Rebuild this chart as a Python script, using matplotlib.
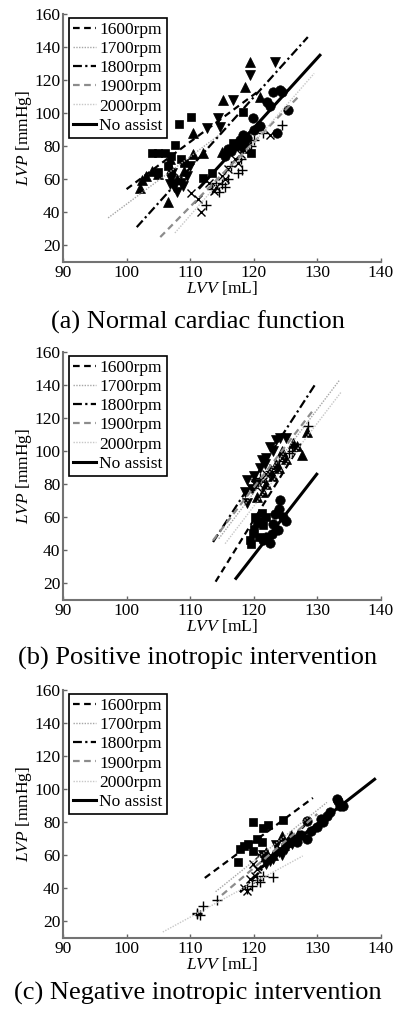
import matplotlib
matplotlib.use("Agg")
from matplotlib import pyplot as plt

plt.rcParams['font.family'] = ['Liberation Serif', 'DejaVu Serif']
plt.rcParams['mathtext.fontset'] = 'custom'
plt.rcParams['mathtext.rm'] = 'Liberation Serif'
plt.rcParams['mathtext.it'] = 'Liberation Serif:italic'

labels = ["1600rpm", "1700rpm", "1800rpm", "1900rpm", "2000rpm", "No assist"]
captions = ["(a) Normal cardiac function",
            "(b) Positive inotropic intervention",
            "(c) Negative inotropic intervention"]
x_ticks = [90, 100, 110, 120, 130, 140]
y_ticks = [20, 40, 60, 80, 100, 120, 140, 160]

# ---- (a) normal cardiac function: measured points [LVV, LVP]
a_1600 = [(108.2, 93.5), (110.1, 97.7), (107.6, 80.8), (106, 75.9), (104.9, 64.4), (112, 60.8),
          (118.3, 100.7), (116.7, 82), (105, 76), (107, 74), (108.5, 72), (109, 70), (106.5, 68),
          (104, 76), (117.5, 80), (118.5, 78), (113.5, 64), (119.5, 76)]
a_1700 = [(102.4, 59.6), (102.1, 54.8), (106.5, 46.3), (110.4, 88), (115, 76.5), (119.4, 131),
          (118.6, 116), (115.2, 108), (121, 110), (105, 63), (107, 66), (108, 60), (106.8, 72),
          (109, 65), (104, 65), (103, 62), (110.5, 75), (112, 76)]
a_1800 = [(119.4, 123), (123.3, 131), (116.7, 108), (114.4, 97), (112.6, 91), (114.7, 91.7),
          (107, 60), (107.5, 55), (108, 52), (108.5, 58), (109.5, 62), (106.8, 57), (110, 68),
          (108.8, 56), (107.2, 64)]
a_1900 = [(110.1, 51.7), (111.2, 48), (111.7, 40.2), (117.5, 70), (122.5, 86.8), (113, 58),
          (114, 55), (115, 62), (116, 66), (117, 72), (118, 75), (119, 80), (113.8, 53),
          (115.5, 60), (118.6, 87)]
a_2000 = [(112.5, 44.5), (117.5, 63.8), (118.1, 65.6), (124.4, 92.9), (121.4, 88), (113.5, 54),
          (114.5, 52), (115, 57), (116, 60), (114, 58), (116.5, 68), (118, 72), (119.5, 80),
          (120, 84), (115.5, 55)]
a_none = [(124.1, 114), (123, 112.8), (125.4, 102), (122.1, 106.8), (119.9, 97), (123.6, 88),
          (118.3, 86.8), (117.8, 83.8), (116, 78), (117, 80), (118.5, 82), (121, 92), (120, 90),
          (124.5, 113), (122.5, 104), (119, 85), (115.5, 74), (116.5, 77)]
# fitted lines: (LVV start, LVV end, LVP start, LVP end)
a_fits = [(100, 121, 54, 114), (97.1, 115, 36.6, 88), (101.6, 128.5, 31, 146),
          (105.3, 127.3, 25, 111), (107.6, 129.5, 27.5, 124), (111.5, 130.4, 55, 135)]

# ---- (b) positive inotropic intervention
b_1600 = [(119.9, 50.5), (121.3, 62.6), (119.4, 46.3), (120.5, 56.6), (120, 53), (121, 58),
          (120.8, 48), (119.5, 44), (122, 60), (121.5, 55), (120.2, 60)]
b_1700 = [(128.4, 111.6), (127.6, 97.7), (126.2, 105), (124, 90), (123, 85), (122, 80), (125, 95),
          (124.5, 100), (121.5, 75), (123.5, 92), (126.8, 103), (122.5, 88), (120.5, 72)]
b_1800 = [(118.9, 68.7), (118.6, 75.3), (118.9, 82.6), (121.3, 94.7), (122.5, 102.6), (124.1, 108),
          (120, 85), (121, 90), (123, 100), (120.3, 80), (119.8, 77), (122, 96), (123.5, 107),
          (125, 108), (121.8, 92)]
b_1900 = [(120.5, 78), (121.5, 82), (122, 86), (120.8, 80), (123, 90), (124.5, 96)]
b_2000 = [(126, 100), (128.5, 115), (121, 84), (122.5, 88), (124, 94), (125.5, 99)]
b_none = [(124.1, 70.5), (122.5, 44.5), (124.6, 60.2), (123.8, 52.3), (123, 56), (122, 48),
          (124, 65), (123.3, 62), (125, 58), (122.8, 50), (121.5, 46)]
b_fits = [(114, 127.5, 21, 105), (114.5, 133.5, 47, 143), (113.6, 129.6, 45, 140),
          (113.6, 129.2, 46, 124), (115.5, 133.8, 44, 136), (117.2, 129.9, 23, 86)]

# ---- (c) negative inotropic intervention
c_1600 = [(119.9, 80.2), (122.2, 78.4), (124.6, 81.4), (117.8, 63.8), (119.1, 66.9), (121.3, 68.1),
          (117.5, 56), (119.9, 62.6), (121.4, 76.5), (118.5, 65.5), (120.5, 70)]
c_1700 = [(123.6, 63.8), (125.2, 68.1), (126.2, 69.9), (124.4, 71.7), (123, 60), (122, 62),
          (124.8, 66), (125.8, 72), (127, 73)]
c_1800 = [(122.5, 56.6), (123, 58), (122, 55), (124, 62), (123.5, 66), (125, 64), (121.5, 60),
          (124.5, 60), (126, 67)]
c_1900 = [(118.9, 38.4), (119.4, 45.7), (119.9, 54.8), (120.2, 47.5), (120.9, 60), (121.5, 58),
          (118.5, 40.5), (120.5, 52)]
c_2000 = [(111.1, 24.5), (111.5, 23.9), (111, 25), (112, 29.4), (114.2, 33), (118.9, 39.6),
          (119.7, 41.5), (121.4, 47.5), (123, 46.9), (120.5, 45), (121, 44)]
c_none = [(128.4, 80.8), (133.2, 92.9), (133.6, 89.9), (130.9, 80.2), (129.9, 77.1), (126.8, 68.1),
          (133.1, 94), (134, 90), (128.4, 70), (131.5, 84), (132, 86), (129, 75), (127.5, 72),
          (130.5, 82)]
c_fits = [(112.3, 129.3, 46.3, 94.7), (114, 131.5, 38, 92), (117.8, 128, 37.8, 78),
          (115, 130, 36, 85), (105.7, 127.7, 13.6, 59.6), (121, 139, 52, 106)]

panels = [
    ([a_1600, a_1700, a_1800, a_1900, a_2000, a_none], a_fits),
    ([b_1600, b_1700, b_1800, b_1900, b_2000, b_none], b_fits),
    ([c_1600, c_1700, c_1800, c_1900, c_2000, c_none], c_fits),
]

markers = ['s', '^', 'v', 'x', '+', 'o']
msizes = [5.8, 7.2, 7.2, 5.5, 6.5, 6.8]
line_styles = [
    dict(color='black', ls=(0, (3, 2)), lw=1.6),
    dict(color='0.65', ls=(0, (1, 1)), lw=1.0),
    dict(color='black', ls=(0, (4, 1.5, 1, 1.5)), lw=1.6),
    dict(color='0.55', ls=(0, (3, 2)), lw=1.6),
    dict(color='0.78', ls=(0, (1, 1)), lw=1.0),
    dict(color='black', ls='-', lw=2.2),
]

fig = plt.figure(figsize=(3.96, 10.15), dpi=100)
bottoms = [0.742, 0.409, 0.0759]
caption_y = [322, 658, 993]

for i, (series, fits) in enumerate(panels):
    ax = fig.add_axes([0.159, bottoms[i], 0.803, 0.2443])
    handles = []
    for pts, m, ms in zip(series, markers, msizes):
        xs = [p[0] for p in pts]
        ys = [p[1] for p in pts]
        ax.plot(xs, ys, ls='none', marker=m, ms=ms, color='black',
                mew=1.0 if m in 'x+' else 0.5, zorder=3)
    for (x0, x1, y0, y1), sty, lab in zip(fits, line_styles, labels):
        h, = ax.plot([x0, x1], [y0, y1], label=lab, zorder=4, **sty)
        handles.append(h)

    ax.set_xlim(90, 140)
    ax.set_ylim(10, 160)
    ax.set_xticks(x_ticks)
    ax.set_yticks(y_ticks)
    ax.tick_params(direction='in', length=3, width=1, color='0.4', labelsize=12.5, pad=2)
    for s in ['top', 'right']:
        ax.spines[s].set_visible(False)
    for s in ['left', 'bottom']:
        ax.spines[s].set_color('0.45')
        ax.spines[s].set_linewidth(1.5)
    ax.set_xlabel(r'$\mathit{LVV}$ [mL]', fontsize=12.5, labelpad=-1)
    ax.set_ylabel(r'$\mathit{LVP}$ [mmHg]', fontsize=12.5, labelpad=0)

    leg = ax.legend(handles=handles, loc='upper left', bbox_to_anchor=(0.018, 0.985),
                    fontsize=12.5, handlelength=1.35, handletextpad=0.15, labelspacing=0.17,
                    borderpad=0.25, borderaxespad=0, fancybox=False, framealpha=1)
    leg.get_frame().set_edgecolor('black')
    leg.get_frame().set_linewidth(1.2)

    fig.text(0.5, 1 - caption_y[i] / 1015, captions[i], ha='center', va='center', fontsize=19)

fig.savefig('out.png', dpi=100)
